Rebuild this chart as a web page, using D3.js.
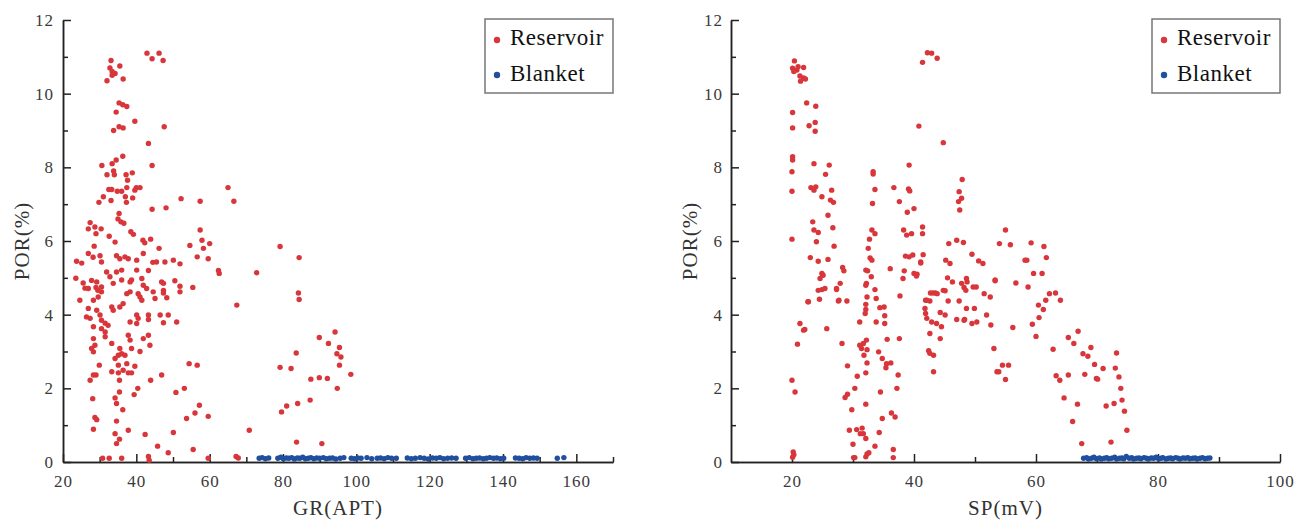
<!DOCTYPE html>
<html>
<head>
<meta charset="utf-8">
<script src="https://cdn.jsdelivr.net/npm/d3@7.9.0/dist/d3.min.js"></script>
<style>
  body { margin: 0; background: #fff; }
  svg { display: block; }
  .axis path, .axis line { stroke: #222; stroke-width: 1.5; }
  .axis .tick text { font-family: "Liberation Serif", "DejaVu Serif", serif; font-size: 17px; fill: #3a3a3a; letter-spacing: 1px; }
  .title { font-family: "Liberation Serif", serif; font-size: 21px; fill: #333; letter-spacing: 1px; }
  .legend text { font-family: "Liberation Serif", serif; font-size: 23px; fill: #111; letter-spacing: 0.5px; }
</style>
</head>
<body>
<svg id="chart" width="1314" height="523"></svg>
<script>
// axis ticks
const porTicks = [0, 2, 4, 6, 8, 10, 12];
const porMinor = [1, 3, 5, 7, 9, 11];
const grTicks = [20, 40, 60, 80, 100, 120, 140, 160];
const grMinor = [30, 50, 70, 90, 110, 130, 150, 170];
const spTicks = [20, 40, 60, 80, 100];
const spMinor = [30, 50, 70, 90];
const seriesNames = ["Reservoir", "Blanket"];
const seriesColors = ["#d8363b", "#1f4f9e"];

// GR vs POR, reservoir points [GR, POR]
const grReservoir = [
  [42.9,11.1],[44.3,10.95],[46.2,11.1],[47.3,10.9],[33.1,10.9],[32.8,10.7],[33.4,10.6],[34.2,10.55],[33.4,10.5],[35.5,10.75],
  [36.4,10.4],[32,10.35],[35.3,9.75],[36.3,9.7],[37.4,9.65],[34.5,9.5],[39.6,9.25],[47.6,9.1],[35.3,9.1],[36.4,9.07],
  [33.8,9.0],[43.3,8.65],[44.3,8.05],[30.6,8.05],[33.4,8.1],[34.5,8.2],[36.3,8.3],[32,7.8],[33.8,7.9],[34,7.8],
  [37.2,7.8],[38.9,7.85],[37.6,7.65],[32.5,7.4],[33.3,7.4],[34.8,7.35],[36,7.35],[37.4,7.45],[40,7.45],[39.6,7.38],
  [41,7.45],[31,7.2],[29.8,7.05],[33.1,7.1],[37,7.2],[37.3,7.05],[39,7.17],[52.2,7.15],[57.4,7.08],[65,7.45],
  [66.6,7.08],[48.1,6.9],[44.3,6.86],[35.3,6.75],[35,6.6],[35.8,6.52],[36.6,6.48],[27.4,6.5],[26.9,6.33],[28.7,6.38],
  [30.4,6.33],[29,6.2],[38.5,6.25],[39.2,6.18],[32.6,6.13],[34.2,5.97],[41.8,6.02],[42.3,5.95],[43.9,6.05],[46.2,5.8],
  [54.6,5.88],[57.4,6.3],[57.9,6.02],[60,5.93],[58.3,5.8],[79.2,5.85],[84.4,5.55],[28.5,5.86],
  [23.7,5.45],[25.1,5.4],[26.9,5.66],[28.2,5.56],[30.1,5.6],[30.5,5.43],[34.6,5.6],[35.5,5.52],[36.9,5.57],[37.8,5.52],
  [40.1,5.48],[41.9,5.66],[43.3,5.2],[44.5,5.42],[45.5,5.43],[47.8,5.43],[50.1,5.48],[51.9,5.38],[56.6,5.57],[59.6,5.52],
  [23.5,4.99],[25.5,4.86],[26,4.72],[27.8,4.93],[29.2,4.89],[29,4.74],[29.5,4.66],[30.5,4.75],[30.5,4.62],[31.9,5.16],
  [32.8,5.03],[34.6,5.16],[36,5.21],[33.7,4.85],[36,4.94],[38.3,4.89],[38.7,4.94],[40.1,5.21],[41.5,4.98],[41.9,4.8],
  [46.9,4.89],[50.5,4.92],[51.9,4.77],[51.9,4.62],[55.4,4.74],
  [24.6,4.39],[26.9,4.17],[26.4,3.94],[28.3,4.39],[29.6,4.48],[29.2,4.12],[30.1,3.99],[30.5,3.85],[31.5,3.77],[32.3,3.71],
  [33.3,4.21],[33.7,4.12],[35.5,4.21],[36.4,4.3],[37.4,4.57],[38.3,4.62],[40.5,4.57],[41,4.48],[41.5,4.39],[42.8,4.71],
  [44.6,4.62],[45.1,4.44],[47.4,4.66],[48.3,4.46],[40.1,3.99],[40.5,3.9],[43.3,3.99],[43.3,3.87],[27.4,3.9],
  [28.3,3.67],[30.5,3.62],[38.3,3.8],[40.1,3.76],[46.5,3.99],[48.7,3.99],[51,3.8],
  [28.3,3.35],[27.8,3.08],[28.3,2.99],[28.7,3.17],[31.5,3.53],[31.5,3.4],[33.3,3.22],[35.5,3.08],[35.1,2.9],[36,2.94],
  [34.2,2.81],[36.9,2.9],[37.4,2.67],[35.1,2.63],[36.4,2.49],[35.1,2.42],[37.8,2.42],[38.7,2.42],[39.6,2.6],[41,3.0],
  [38.7,3.08],[38.3,3.31],[37.8,3.44],[41.9,3.35],[43.3,3.44],[43.7,3.17],[29.9,2.63],[29,2.36],[28.3,2.36],[27.4,2.22],
  [33.3,2.45],[35.4,2.22],[43.9,2.22],[46.9,2.36],[28.1,1.72],[28.7,1.21],[29.2,1.15],[28.3,0.89],[35.4,1.9],[34.2,1.74],
  [34.6,1.59],[36.3,1.42],[34.6,1.11],[34.2,0.77],[35.4,0.62],[34.6,0.5],[37.8,0.86],[39.4,1.83],[40.4,2.0],[42.4,0.75],
  [45.8,0.43],[48.7,0.25],[50.8,1.89],[53.1,2.0],[50.1,0.8],[53.7,1.18],[56,1.33],[57.2,1.54],[54.4,2.67],[56.6,2.63],
  [55.5,0.34],[59.6,1.24],[30.8,0.1],[32.6,0.1],[36,0.1],[43.3,0.15],[43.5,0.05],[59.6,0.1],
  [62.4,5.2],[62.6,5.12],[72.8,5.14],[67.4,4.26],[84.2,4.59],[84.4,4.41],[89.9,3.38],[92.4,3.22],[83.6,2.96],[79.2,2.57],
  [82.2,2.54],[87.6,2.25],[89.9,2.29],[92.1,2.27],[84,1.59],[81,1.52],[79.6,1.36],[87.4,1.68],[70.8,0.86],[83.7,0.54],
  [90.6,0.5],[67.2,0.15],[67.8,0.11],[47.4,4.85],[47.4,4.59],[47.4,3.78],[26.9,4.71],
  [94.2,3.53],[95.4,3.11],[94.7,2.94],[95.8,2.85],[95.4,2.63],[98.5,2.38],[94.8,2.0]
];

// GR vs POR, blanket points
const grBlanket = [
  [73.5,0.1],[74.3,0.12],[75.2,0.09],[76.1,0.11],[78.6,0.1],[79.4,0.13],[80.1,0.09],[80.9,0.11],[81.6,0.1],[82.4,0.12],
  [83.1,0.08],[83.9,0.11],[84.6,0.1],[85.4,0.13],[86.1,0.09],[86.9,0.1],[87.6,0.12],[88.4,0.09],[89.2,0.11],[90,0.1],
  [91,0.12],[91.8,0.09],[92.7,0.1],[93.5,0.11],[94.4,0.08],[95.6,0.1],[96.6,0.12],[98.6,0.1],[99.5,0.09],[100.4,0.11],
  [101.3,0.1],[102.9,0.12],[104.2,0.09],[105.7,0.1],[106.6,0.11],[107.6,0.09],[108.6,0.12],[109.6,0.1],[110.9,0.1],
  [113.9,0.11],[115,0.09],[116.1,0.1],[117.4,0.12],[118.5,0.1],[119.6,0.08],[120.8,0.11],[121.8,0.1],[122.8,0.12],
  [123.8,0.09],[124.9,0.1],[126,0.11],[127.2,0.1],[129.8,0.1],[130.8,0.12],[131.8,0.09],[132.7,0.1],[133.6,0.11],
  [134.6,0.09],[135.5,0.1],[136.4,0.12],[137.4,0.1],[138.3,0.11],[139.3,0.09],[140.2,0.1],[143.4,0.11],[144.4,0.1],
  [145.4,0.09],[146.3,0.12],[147.3,0.1],[148.3,0.11],[149.3,0.1],[154.8,0.1],[156.6,0.12]
];

// SP vs POR, reservoir points [SP, POR]
const spReservoir = [
  [20.4,10.89],[20.1,10.69],[20.8,10.64],[21,10.73],[21.9,10.71],[20.3,10.6],[21.3,10.48],[21.9,10.43],[22.2,10.4],[21.4,10.34],
  [20.1,9.49],[22.4,9.75],[23.9,9.66],[20.1,9.07],[22.8,9.13],[23.8,9.22],[23.8,8.98],[20.1,8.29],[20.1,8.2],[23.6,8.1],
  [26.1,8.06],[20,7.88],[25.5,7.81],[20,7.35],[23.1,7.45],[23.6,7.38],[23.9,7.47],[24.9,7.2],[26.5,7.38],[26.3,7.11],
  [26.8,7.05],[25.9,6.7],[26.7,6.36],[26.9,5.86],[23.4,6.52],[23.6,6.3],[24.3,6.23],[24,5.98],[20,6.05],[33.3,7.88],
  [33.3,7.82],[33.6,7.4],[33.2,7.02],[33.1,6.3],[33.6,6.2],[32.7,6.05],[32.5,5.8],[36.7,7.45],[37.6,7.07],[39.2,8.06],
  [39.1,7.41],[39.3,7.36],[40,6.88],[38.9,6.78],[38.3,6.3],[38.8,6.16],[39.6,6.2],[41.4,6.38],[41.4,6.2],[40.8,9.12],
  [41.4,10.85],[42.2,11.11],[42.9,11.1],[43.8,10.96],[44.8,8.67],[47.9,7.67],[47.4,7.34],[47.8,7.16],[47.3,7.07],[47.5,6.84],
  [45.7,5.93],[47,6.02],[48.1,5.96],[49.5,5.64],
  [23,5.55],[24.3,5.45],[25.9,5.5],[28.3,5.28],[28.5,5.19],[24.9,5.12],[24.6,4.98],[27.9,4.85],[27.3,4.71],[24.3,4.66],
  [24.9,4.68],[25.4,4.71],[22.7,4.35],[24.5,4.42],[27.6,4.37],[29,4.37],[32.8,5.54],[33.1,5.48],[32.1,5.21],[32.4,5.19],
  [33,5.03],[32.2,4.85],[32.1,4.8],[33.6,4.68],[32.3,4.48],[33.8,4.44],[32.1,4.28],[32.1,4.14],[32,4.03],[34.4,4.19],
  [35.1,4.21],[35.2,3.97],[36.1,5.25],[38.4,5.19],[38.2,4.98],[38.6,5.59],[39.2,5.57],[39.8,5.62],[41.5,5.63],[41.1,5.43],
  [41.1,5.4],[40,5.12],[40.4,5.05],[40.5,5.1],[37.7,4.51],[41.9,4.39],[42.6,4.37],[43.1,4.59],[43.5,4.59],[44.8,4.66],
  [41.8,4.17],[41.9,4.03],[44.3,4.06],[45.6,4.37],[45.2,5.48],[45.9,5.39],[45.5,5.0],[46.3,4.89],[47.8,4.85],[48.2,4.74],
  [48.6,4.98],[48.7,4.89],[48.5,4.66],[50.6,5.46],[51.3,5.39],[49.7,4.75],[50.2,4.75],[51.5,4.57],[52.5,4.48],[53.3,4.94],
  [48.6,4.17],[49.9,4.17],[51.9,3.99],[47.4,4.37],[54,5.93],
  [21.3,3.76],[22.1,3.6],[21.9,3.58],[25.7,3.62],[20.9,3.2],[28.2,3.22],[20,2.22],[20.5,1.9],[31.1,3.8],[33.8,3.8],
  [35.2,3.76],[31.1,3.17],[31.7,3.22],[32.2,3.31],[31.4,3.08],[32.3,3.05],[31.8,2.9],[32.3,2.69],[29.1,2.61],[30.7,2.33],
  [32.1,2.42],[30.3,2.0],[29.1,1.84],[28.7,1.75],[29.8,1.42],[32.1,1.57],[30.6,0.88],[31.5,0.92],[29.4,0.86],[31.7,0.77],
  [31.2,0.77],[32.1,0.64],[30,0.48],[33.6,0.43],[34.3,0.8],[34.8,1.18],[34.5,1.9],[34.2,2.99],[34.8,2.81],[35.5,2.67],
  [35.4,2.56],[36.2,2.69],[35.6,3.33],[37.6,3.35],[37.4,2.36],[37.2,2.0],[36.3,1.33],[36.9,1.22],[20.2,0.27],[20.1,0.13],
  [20.3,0.2],[30.1,0.12],[30.3,0.12],[32.1,0.14],[32.3,0.22],[32.6,0.25],[36.6,0.34],[36.6,0.12],[42.6,3.49],[42.4,3.02],
  [42.6,2.95],[43.2,2.9],[43.2,2.45],[44.3,3.35],[52.6,3.72],[53.1,3.08],[53.6,2.45],[53.9,2.45],
  [42.1,3.9],[42.9,3.8],[43.7,3.76],[44.5,3.67],[45.1,3.99],[47,3.87],[48.2,3.85],[48.3,3.87],[49.5,3.76],[50.3,3.8],
  [42.1,4.39],[42.7,4.59],[43.8,4.57],[45.1,4.65],[22.6,4.35],[25.1,5.07],[27.3,4.68],[27.7,4.39],
  [53.3,4.92],[54.5,2.63],[55.5,2.63],[55,2.24],[56.2,3.65],[56.7,4.86],[58.2,5.48],[58.5,5.48],[59.6,5.12],[61,5.12],
  [58.7,4.75],[60.4,4.26],[61.2,4.14],[60.5,3.92],[59.4,3.74],[60,3.41],[61.6,4.39],[62.2,4.57],[63.2,4.59],[64,4.39],
  [62.8,3.06],[63.3,2.34],[63.9,2.22],[65.3,2.36],[64.6,1.74],[65.3,3.38],[66.2,3.22],[66.9,3.55],[66.8,1.57],[66,1.1],
  [67.5,0.5],[67.7,2.94],[68.5,2.87],[69,3.11],[68,2.38],[69.6,2.65],[69.9,2.27],[70.1,2.25],[71,2.54],[71.5,1.52],
  [72.8,1.59],[72.3,0.54],[73.2,2.96],[73,2.55],[73.6,2.31],[73.9,2],[74.1,1.68],[74.5,1.38],[74.9,0.86],
  [59.2,5.95],[61.3,5.85],[61.7,5.55],[55,6.3],[55.8,5.9]
];

// SP vs POR, blanket points
const spBlanket = [
  [67.8,0.1],[68.3,0.12],[68.6,0.08],[69.1,0.1],[69.5,0.13],[69.9,0.09],[70.4,0.11],[70.7,0.08],[71.2,0.1],[71.6,0.12],
  [71.9,0.09],[72.4,0.1],[72.9,0.13],[73.2,0.08],[73.7,0.1],[74.1,0.11],[74.4,0.09],[74.8,0.15],[75.3,0.1],[75.7,0.12],
  [76,0.08],[76.5,0.1],[76.9,0.11],[77.2,0.09],[77.7,0.12],[78.1,0.1],[78.4,0.08],[78.9,0.11],[79.3,0.1],[79.7,0.13],
  [80.1,0.09],[80.5,0.1],[80.8,0.12],[81.3,0.08],[81.7,0.1],[82.1,0.11],[82.4,0.09],[82.9,0.12],[83.3,0.1],[83.6,0.08],
  [84.1,0.11],[84.5,0.1],[84.9,0.12],[85.2,0.09],[85.7,0.1],[86.1,0.11],[86.4,0.08],[86.9,0.1],[87.3,0.12],[87.7,0.09],
  [88.1,0.1],[88.5,0.11]
];

const svg = d3.select("#chart");

function drawPanel(p) {
  const x = d3.scaleLinear().domain(p.xDomain).range(p.xRange);
  const y = d3.scaleLinear().domain([0, 12]).range([462, 20]);
  const g = svg.append("g");

  // minor ticks first, then major axes on top
  g.append("g").attr("class", "axis").attr("transform", `translate(0,${y(0)})`)
    .call(d3.axisBottom(x).tickValues(p.xMinor).tickSize(-5).tickSizeOuter(0).tickFormat(""));
  g.append("g").attr("class", "axis").attr("transform", `translate(${x(p.xDomain[0])},0)`)
    .call(d3.axisLeft(y).tickValues(porMinor).tickSize(-5).tickSizeOuter(0).tickFormat(""));

  g.append("g").attr("class", "axis").attr("transform", `translate(0,${y(0)})`)
    .call(d3.axisBottom(x).tickValues(p.xTicks).tickSize(-8).tickSizeOuter(0).tickPadding(13));
  g.append("g").attr("class", "axis").attr("transform", `translate(${x(p.xDomain[0])},0)`)
    .call(d3.axisLeft(y).tickValues(porTicks).tickSize(-8).tickSizeOuter(0).tickPadding(p.yPad));

  // axis titles
  const xMid = (p.xRange[0] + p.xRange[1]) / 2;
  g.append("text").attr("class", "title")
    .attr("x", xMid).attr("y", 515).attr("text-anchor", "middle").text(p.xTitle);
  g.append("text").attr("class", "title")
    .attr("transform", `translate(${p.yTitleX},${(y(0) + y(12)) / 2}) rotate(-90)`)
    .attr("text-anchor", "middle").text("POR(%)");

  // points
  [p.reservoir, p.blanket].forEach((pts, i) => {
    g.append("g").selectAll("circle")
      .data(pts)
      .enter()
      .append("circle")
      .attr("cx", d => x(d[0]))
      .attr("cy", d => y(d[1]))
      .attr("r", 2.7)
      .attr("fill", seriesColors[i]);
  });

  // legend
  const lg = g.append("g").attr("class", "legend")
    .attr("transform", `translate(${p.xRange[1] - 128},19)`);
  lg.append("rect").attr("width", 128).attr("height", 74)
    .attr("fill", "#fff").attr("stroke", "#777").attr("stroke-width", 1.5);
  seriesNames.forEach((name, i) => {
    lg.append("circle").attr("cx", 12).attr("cy", 21 + i * 35).attr("r", 3.2).attr("fill", seriesColors[i]);
    lg.append("text").attr("x", 25).attr("y", 26 + i * 36).text(name);
  });
}

drawPanel({
  xDomain: [20, 170], xRange: [63, 613], xTicks: grTicks, xMinor: grMinor,
  xTitle: "GR(APT)", yTitleX: 29, yPad: 9,
  reservoir: grReservoir, blanket: grBlanket
});

drawPanel({
  xDomain: [10, 100], xRange: [731, 1280], xTicks: spTicks, xMinor: spMinor,
  xTitle: "SP(mV)", yTitleX: 697, yPad: 8,
  reservoir: spReservoir, blanket: spBlanket
});
</script>
</body>
</html>
